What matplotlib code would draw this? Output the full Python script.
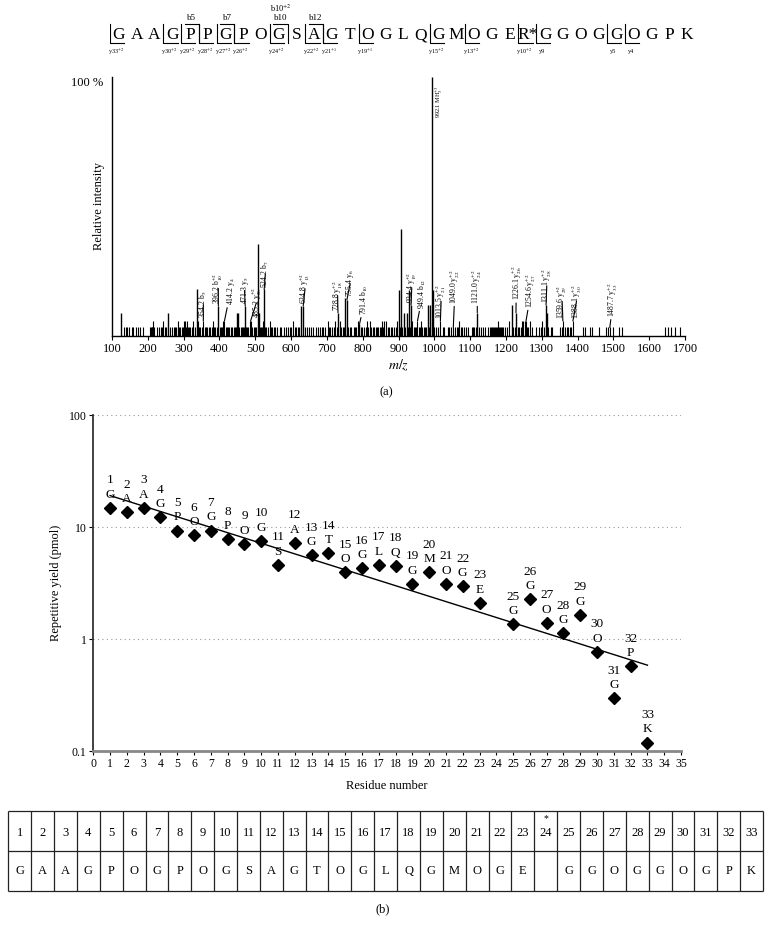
import matplotlib
matplotlib.use("Agg")
import matplotlib.pyplot as plt
import numpy as np
from matplotlib.ticker import NullLocator

plt.rcParams['font.family'] = ['Liberation Serif', 'DejaVu Serif']
plt.rcParams['mathtext.fontset'] = 'stix'

# ---- data: (a) peptide sequence + fragment ions ----
sequence = ['G', 'A', 'A', 'G', 'P', 'P', 'G', 'P', 'O', 'G', 'S', 'A', 'G', 'T', 'O', 'G', 'L',
            'Q', 'G', 'M', 'O', 'G', 'E', 'R*', 'G', 'G', 'O', 'G', 'G', 'O', 'G', 'P', 'K']
y_ion_pos = [1, 4, 5, 6, 7, 8, 10, 12, 13, 15, 19, 21, 24, 25, 29, 30]
y_ion_names = ['y33$^{+2}$', 'y30$^{+2}$', 'y29$^{+2}$', 'y28$^{+2}$', 'y27$^{+2}$', 'y26$^{+2}$',
               'y24$^{+2}$', 'y22$^{+2}$', 'y21$^{+1}$', 'y19$^{+1}$', 'y15$^{+2}$', 'y13$^{+2}$',
               'y10$^{+2}$', 'y9', 'y5', 'y4']
b_ion_pos = [5, 7, 10, 12]
b_ion_names = ['b5', 'b7', 'b10', 'b12']

# ---- data: (a) spectrum peaks (m/z, relative intensity %) ----
major_mz = [126, 257, 336, 397, 450, 453, 472, 508, 510, 525, 629, 634, 731, 752, 756, 791,
            902, 908, 916, 923, 928, 935, 981, 989, 993, 997, 1120, 1217, 1228, 1312, 1315]
major_int = [9, 9, 18, 11.6, 9, 9, 11.6, 35.5, 9, 18, 11.6, 11.6, 9, 14.7, 14, 4.5,
             17.7, 41.4, 9, 9, 17.7, 12, 12, 12, 100, 17.7, 9, 12, 9, 12, 9]
medium_mz = [214, 243, 285, 300, 305, 310, 325, 341, 355, 381, 409, 414, 484, 488, 521, 540,
             606, 702, 723, 737, 787, 813, 820, 855, 860, 865, 897, 939, 953, 963, 1017, 1070,
             1179, 1209, 1244, 1248, 1252, 1256, 1267, 1302, 1359, 1387]
medium_level = 5.8
noise_mz = [133, 138, 142, 147, 155, 160, 166, 172, 178, 186,
            205, 208, 211, 213, 216, 225, 230, 236, 240, 248, 252,
            263, 268, 272, 276, 279, 283, 288, 291, 295, 298, 303, 306, 312, 316, 319, 322, 327,
            331, 339, 344, 347, 350, 359, 363, 366, 370, 374, 378, 385, 389, 392, 401, 404, 407,
            411, 417, 420, 424, 428, 432, 436, 440, 444, 447, 456, 459, 462, 466, 469, 475, 478,
            481, 492, 496, 499, 502, 512, 515, 518, 527, 531, 535, 543, 547, 551, 556,
            562, 568, 573, 580, 586, 591, 596, 600, 610, 614, 618, 623, 640, 645, 650, 656, 662,
            670, 676, 680, 685, 690, 695,
            706, 710, 715, 719, 727, 740, 744, 748, 760, 764, 768, 775, 778, 782, 795, 799, 803,
            808, 816, 824, 828, 832, 836, 840, 844, 848, 852, 856, 866, 870, 874, 878, 882, 887, 892,
            905, 911, 919, 926, 932, 942, 945, 950, 957, 960, 966, 970, 975, 978, 985, 1000,
            1005, 1010, 1023, 1028, 1038, 1042, 1046, 1053, 1058, 1063, 1067, 1074, 1078, 1083,
            1089, 1095, 1105, 1108, 1112, 1116, 1125, 1130, 1137, 1142, 1150, 1155, 1158, 1161,
            1164, 1166, 1169, 1172, 1175, 1181, 1184, 1187, 1190, 1193, 1197,
            1203, 1220, 1224, 1233, 1237, 1241, 1260, 1263, 1274, 1285, 1293, 1298, 1306,
            1318, 1325, 1330, 1352, 1356, 1364, 1370, 1374, 1378, 1383,
            1416, 1420, 1435, 1440, 1460, 1480, 1485, 1490, 1500, 1516, 1525,
            1645, 1652, 1660, 1672, 1686]
noise_level = 3.3

# label, peak m/z, peak top, label m/z, label bottom
peak_labels = [
    ("354.2 b$_5$", 355, 5.8, 355, 6.8),
    ("396.2 b$_{10}^{+2}$", 397, 11.6, 397, 12.3),
    ("414.2 y$_4$", 414, 5.8, 431, 12.0),
    ("471.3 y$_5$", 472, 11.6, 470, 12.3),
    ("485.2 y$_{26}^{+2}$", 487, 5.8, 503, 6.8),
    ("524.2 b$_7$", 525, 18, 528, 18.6),
    ("634.8 y$_{13}^{+2}$", 634, 11.6, 639, 12.2),
    ("728.8 y$_{18}^{+2}$", 731, 9, 730, 9.6),
    ("755.4 y$_6$", 756, 14, 765, 15),
    ("791.4 b$_{10}$", 791, 4.5, 806, 8.2),
    ("934.4 y$_{19}^{+2}$", 935, 12, 937, 12.6),
    ("949.4 b$_{12}$", 953, 5.8, 968, 10.6),
    ("1013.5 y$_{21}^{+2}$", 1017, 5.8, 1019, 6.6),
    ("1049.0 y$_{22}^{+2}$", 1053, 3.3, 1058, 12.5),
    ("1121.0 y$_{24}^{+2}$", 1120, 9, 1120, 12.5),
    ("1226.1 y$_{26}^{+2}$", 1228, 9, 1229, 13.8),
    ("1254.6 y$_{27}^{+2}$", 1256, 5.8, 1271, 11),
    ("1311.1 y$_{28}^{+2}$", 1312, 12, 1314, 12.6),
    ("1359.6 y$_{29}^{+2}$", 1359, 5.8, 1357, 6.7),
    ("1388.1 y$_{30}^{+2}$", 1387, 5.8, 1397, 6.7),
    ("1487.7 y$_{33}^{+2}$", 1490, 3.3, 1500, 7.4),
]

# ---- data: (b) repetitive yields ----
residue_no = [1, 2, 3, 4, 5, 6, 7, 8, 9, 10, 11, 12, 13, 14, 15, 16, 17, 18, 19, 20, 21, 22, 23,
              25, 26, 27, 28, 29, 30, 31, 32, 33]
yield_pmol = [14.9, 13.6, 14.8, 12.2, 9.3, 8.4, 9.3, 7.8, 7.1, 7.5, 4.6, 7.2, 5.6, 5.8, 3.95,
              4.3, 4.6, 4.5, 3.1, 3.95, 3.1, 2.96, 2.1, 1.36, 2.27, 1.39, 1.12, 1.64, 0.77,
              0.296, 0.57, 0.119]
table_letters = ['G', 'A', 'A', 'G', 'P', 'O', 'G', 'P', 'O', 'G', 'S', 'A', 'G', 'T', 'O', 'G', 'L',
                 'Q', 'G', 'M', 'O', 'G', 'E', '', 'G', 'G', 'O', 'G', 'G', 'O', 'G', 'P', 'K']

W, H = 772, 935
fig = plt.figure(figsize=(W / 100, H / 100), dpi=100)


def px_axes(x0, y0, x1, y1):
    return fig.add_axes([x0 / W, 1 - y1 / H, (x1 - x0) / W, (y1 - y0) / H])


# ---------- header sequence ----------
hdr = px_axes(110.1, 0, 695.9, 60)
hdr.set_xlim(0.5, 33.5)
hdr.set_ylim(60, 0)
hdr.axis('off')
for i, aa in enumerate(sequence, start=1):
    hdr.text(i, 35, aa, ha='center', va='center', fontsize=12.5)
for r, name in zip(y_ion_pos, y_ion_names):
    hdr.plot([r - 0.5, r - 0.5, r + 0.3], [24, 43, 43], color='black', lw=0.8)
    hdr.text(r - 0.15, 52, name, ha='center', va='center', fontsize=4.5)
for r, name in zip(b_ion_pos, b_ion_names):
    hdr.plot([r - 0.3, r + 0.5, r + 0.5], [24, 24, 43], color='black', lw=0.8)
    hdr.text(r + 0.1, 18.5, name, ha='center', va='center', fontsize=6.5)
hdr.text(10.1, 8.5, 'b10$^{+2}$', ha='center', va='center', fontsize=6)

# ---------- (a) spectrum ----------
ax1 = px_axes(112, 77, 685, 336)
ax1.vlines(noise_mz, 0, noise_level, color='black', lw=0.8)
ax1.vlines(medium_mz, 0, medium_level, color='black', lw=0.8)
ax1.vlines(major_mz, 0, major_int, color='black', lw=1.0)
ax1.set_xlim(100, 1700)
ax1.set_ylim(0, 100)
ax1.set_xticks(range(100, 1701, 100))
ax1.set_yticks([])
ax1.tick_params(axis='x', direction='out', length=3, labelsize=9, pad=2)
for s in ['top', 'right']:
    ax1.spines[s].set_visible(False)
ax1.spines['left'].set_linewidth(1.0)
ax1.spines['bottom'].set_linewidth(1.0)
for lab, pmz, ptop, tmz, tbot in peak_labels:
    ax1.annotate(lab, xy=(pmz, ptop), xytext=(tmz, tbot), rotation=90,
                 ha='center', va='bottom', fontsize=5.5,
                 arrowprops=dict(arrowstyle='-', lw=0.8, color='black', shrinkA=0, shrinkB=0))
ax1.text(1014, 97, '992.1 MH$_3^{+3}$', rotation=90, ha='center', va='top', fontsize=4.5)
ax1.text(-0.015, 0.975, '100 %', transform=ax1.transAxes, ha='right', va='center', fontsize=9)
ax1.set_ylabel('Relative intensity', fontsize=9)
ax1.yaxis.set_label_coords(-0.012, 0.5)
ax1.set_xlabel('$m/z$', fontsize=10)
ax1.xaxis.set_label_coords(0.5, -0.085)
fig.text(386 / W, 1 - 392 / H, '(a)', ha='center', va='center', fontsize=9)

# ---------- (b) repetitive yield ----------
ax2 = px_axes(93.3, 415, 681, 751)
ax2.set_yscale('log')
ax2.set_ylim(0.1, 100)
ax2.set_xlim(0, 35)
for g in [1, 10, 100]:
    ax2.axhline(g, color='#999999', lw=0.8, ls=(0, (1, 3)), zorder=0)
ax2.plot(residue_no, yield_pmol, 'D', color='black', ms=6.5, zorder=3)
fit = np.polyfit(residue_no, np.log10(yield_pmol), 1)
fx = np.array([residue_no[0], residue_no[-1]])
ax2.plot(fx, 10 ** np.polyval(fit, fx), color='black', lw=1.0, zorder=2)
for n, v in zip(residue_no, yield_pmol):
    ax2.annotate(str(n), (n, v), xytext=(0, 19.8), textcoords='offset points',
                 ha='center', va='center', fontsize=9.5)
    ax2.annotate(table_letters[n - 1], (n, v), xytext=(0, 9.4), textcoords='offset points',
                 ha='center', va='center', fontsize=9.5)
ax2.set_xticks(range(0, 36))
ax2.set_yticks([0.1, 1, 10, 100])
ax2.set_yticklabels(['0.1', '1', '10', '100'])
ax2.yaxis.set_minor_locator(NullLocator())
ax2.tick_params(axis='both', direction='out', length=3, labelsize=8.5, pad=2)
for s in ['top', 'right']:
    ax2.spines[s].set_visible(False)
ax2.spines['bottom'].set_color('#888888')
ax2.spines['bottom'].set_linewidth(2.0)
ax2.spines['left'].set_color('#333333')
ax2.spines['left'].set_linewidth(1.3)
ax2.set_ylabel('Repetitive yield (pmol)', fontsize=9)
ax2.yaxis.set_label_coords(-0.053, 0.5)
ax2.set_xlabel('Residue number', fontsize=9)
ax2.xaxis.set_label_coords(0.5, -0.085)

# ---------- (b) sequence table ----------
tab = px_axes(8.3, 811, 763, 891)
tab.set_xlim(0.5, 33.5)
tab.set_ylim(2, 0)
tab.axis('off')
tab.hlines([0, 1, 2], 0.5, 33.5, color='#222222', lw=0.9, clip_on=False)
tab.vlines(np.arange(0.5, 34.5, 1), 0, 2, color='#222222', lw=0.9, clip_on=False)
for i, aa in enumerate(table_letters, start=1):
    tab.text(i, 0.55, str(i), ha='center', va='center', fontsize=9)
    tab.text(i, 1.5, aa, ha='center', va='center', fontsize=9)
tab.text(24, 0.18, '*', ha='center', va='center', fontsize=7)
fig.text(383 / W, 1 - 909 / H, '(b)', ha='center', va='center', fontsize=9)

fig.savefig('out.png', dpi=100)
